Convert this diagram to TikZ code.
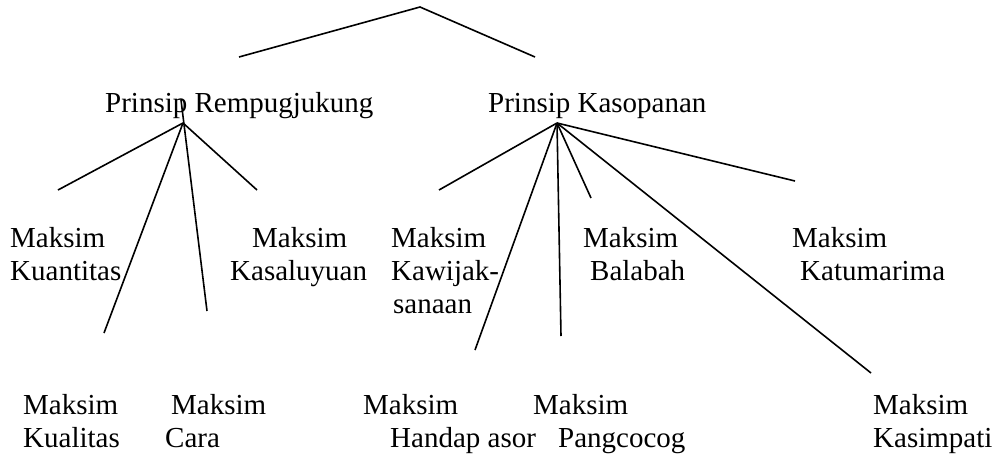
\documentclass[tikz,border=0pt]{standalone}
\usepackage{fontspec}
\setmainfont{Liberation Serif}
\begin{document}
\begin{tikzpicture}[x=1pt,y=-1pt,
  txt/.style={anchor=base west, inner sep=0pt, align=left,
              font=\fontsize{29}{33}\selectfont},
  limb/.style={line width=1.6pt, black}]
\fill[white] (0,0) rectangle (1000,458);
\useasboundingbox (0,0) rectangle (1000,458);

% labels (each placed by the baseline of its last line)
\node[txt] (rempug) at (105,112) {Prinsip Rempugjukung};
\node[txt] (kasop)  at (488,112) {Prinsip Kasopanan};

\node[txt] (kuantitas)  at (10,280)  {Maksim\\Kuantitas};
\node[txt] (kasaluyuan) at (230,280) {\hspace{22pt}Maksim\\Kasaluyuan};
\node[txt] (kawijak)    at (391,313) {Maksim\\Kawijak-\\\hspace{2pt}sanaan};
\node[txt] (balabah)    at (583,280) {Maksim\\\hspace{7pt}Balabah};
\node[txt] (katumarima) at (792,280) {Maksim\\\hspace{8pt}Katumarima};

\node[txt] (kualitas)   at (23,447)  {Maksim\\Kualitas};
\node[txt] (cara)       at (165,447) {\hspace{6pt}Maksim\\Cara};
\node[txt] (handap)     at (363,447) {Maksim\\\hspace{27pt}Handap asor};
\node[txt] (pangcocog)  at (533,447) {Maksim\\\hspace{25pt}Pangcocog};
\node[txt] (kasimpati)  at (873,447) {Maksim\\Kasimpati};

% branch points and free line ends
\coordinate (apex)    at (420,7);
\coordinate (apexL)   at (239,57);
\coordinate (apexR)   at (535,57);
\coordinate (hubR)    at (183,123);
\coordinate (hubRtop) at (181,100);
\coordinate (hubK)    at (557,123);

\coordinate (eKuantitas)  at (58,190);
\coordinate (eKasaluyuan) at (257,190);
\coordinate (eKualitas)   at (104,333);
\coordinate (eCara)       at (207,311);
\coordinate (eKawijak)    at (439,190);
\coordinate (eHandap)     at (475,350);
\coordinate (ePangcocog)  at (561,336);
\coordinate (eBalabah)    at (591,198);
\coordinate (eKasimpati)  at (871,373);
\coordinate (eKatumarima) at (795,181);

% tree lines
\draw[limb] (apexL) -- (apex) -- (apexR);

\draw[limb] (hubR) -- (eKuantitas);
\draw[limb] (hubR) -- (eKasaluyuan);
\draw[limb] (hubR) -- (eKualitas);
\draw[limb] (hubRtop) -- (eCara);

\draw[limb] (hubK) -- (eKawijak);
\draw[limb] (hubK) -- (eHandap);
\draw[limb] (hubK) -- (ePangcocog);
\draw[limb] (hubK) -- (eBalabah);
\draw[limb] (hubK) -- (eKasimpati);
\draw[limb] (hubK) -- (eKatumarima);
\end{tikzpicture}
\end{document}
